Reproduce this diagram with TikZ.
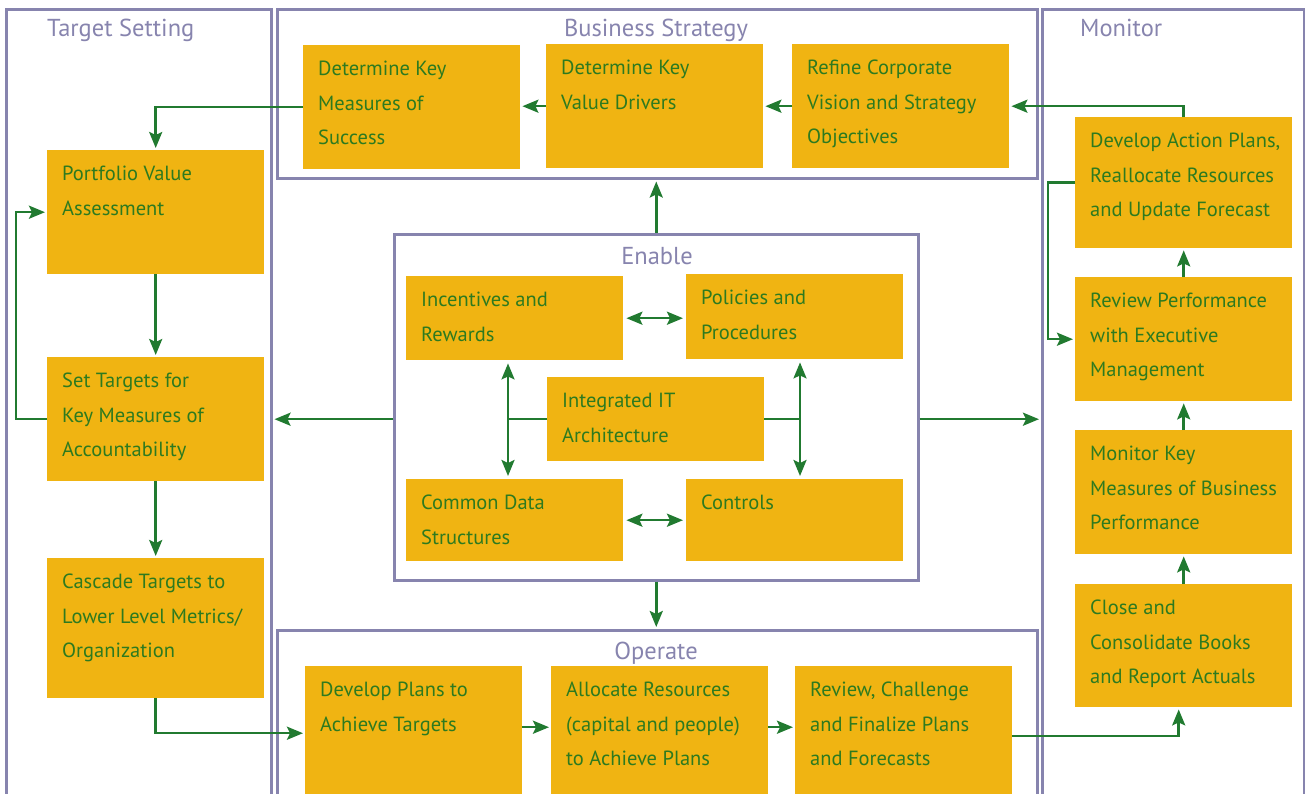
\documentclass[tikz,border=0pt]{standalone}
\usepackage{fontspec}
\setmainfont{PT Sans}
\usepackage{tikz}
\usetikzlibrary{arrows.meta}
\definecolor{gold}{HTML}{F0B412}
\definecolor{leaf}{HTML}{217A30}
\definecolor{ink}{HTML}{2D7A1F}
\definecolor{lav}{HTML}{8784AE}
\newcommand{\cellbox}[2]{\parbox[c][#1][t]{187pt}{\rightskip=-30pt plus 1fil\relax #2}}

\begin{document}
\begin{tikzpicture}[x=1pt, y=-1pt,
  blk/.style={fill=gold, text=ink, anchor=north west, inner xsep=15pt, inner ysep=16pt, font=\fontsize{20.5}{34.5}\selectfont},
  frame/.style={draw=lav, line width=2.5pt, anchor=north west, inner sep=0pt},
  ttl/.style={text=lav, inner sep=0pt, font=\fontsize{24.5}{28}\selectfont},
  wire/.style={draw=leaf, line width=2.5pt},
  arr/.style={wire, shorten >=2pt, -{Stealth[length=16pt,width=13pt,inset=3pt]}},
  dbl/.style={wire, shorten >=3pt, shorten <=3pt, {Stealth[length=16pt,width=13pt,inset=3pt]}-{Stealth[length=16pt,width=13pt,inset=3pt]}}]
\useasboundingbox (0,0) rectangle (1305,793);
\clip (0,0) rectangle (1305,793);
% frames
\node[frame, minimum width=265pt, minimum height=900pt] (ts) at (5,8) {};
\node[frame, minimum width=760pt, minimum height=169pt] (bs) at (276,8) {};
\node[frame, minimum width=262pt, minimum height=900pt] (mon) at (1041,8) {};
\node[frame, minimum width=524pt, minimum height=346pt] (en) at (393,233) {};
\node[frame, minimum width=760pt, minimum height=300pt] (op) at (276,629) {};
\node[ttl, anchor=base west] (tset) at (47,36) {Target Setting};
\node[ttl, anchor=base] (tstrat) at (656,36) {Business Strategy};
\node[ttl, anchor=base west] (tmoni) at (1080,36) {Monitor};
\node[ttl, anchor=base] (tenab) at (657,264) {Enable};
\node[ttl, anchor=base] (toper) at (656,659) {Operate};
% target setting
\node[blk] (pva) at (47,150) {\cellbox{92pt}{Portfolio Value\\ Assessment}};
\node[blk] (st) at (47,357) {\cellbox{92pt}{Set Targets for\\ Key Measures of\\ Accountability}};
\node[blk] (cas) at (47,558) {\cellbox{108pt}{Cascade Targets to\\ Lower Level Metrics/\\ Organization}};
% business strategy
\node[blk] (dkms) at (303,45) {\cellbox{92pt}{Determine Key\\ Measures of\\ Success}};
\node[blk] (dkvd) at (546,44) {\cellbox{92pt}{Determine Key\\ Value Drivers}};
\node[blk] (rcv) at (792,44) {\cellbox{92pt}{Refine Corporate\\ Vision and Strategy\\ Objectives}};
% monitor
\node[blk] (dap) at (1075,117) {\cellbox{99pt}{Develop Action Plans,\\ Reallocate Resources\\ and Update Forecast}};
\node[blk] (rp) at (1075,277) {\cellbox{92pt}{Review Performance\\ with Executive\\ Management}};
\node[blk] (mk) at (1075,430) {\cellbox{92pt}{Monitor Key\\ Measures of Business\\ Performance}};
\node[blk] (cc) at (1075,584) {\cellbox{91pt}{Close and\\ Consolidate Books\\ and Report Actuals}};
% enable
\node[blk] (inc) at (406,276) {\cellbox{52pt}{Incentives and\\ Rewards}};
\node[blk] (pol) at (686,274) {\cellbox{53pt}{Policies and\\ Procedures}};
\node[blk] (it) at (547,377) {\cellbox{52pt}{Integrated IT\\ Architecture}};
\node[blk] (cd) at (406,479) {\cellbox{50pt}{Common Data\\ Structures}};
\node[blk] (ctl) at (686,479) {\cellbox{50pt}{Controls}};
% operate
\node[blk] (dp) at (305,666) {\cellbox{102pt}{Develop Plans to\\ Achieve Targets}};
\node[blk] (al) at (551,666) {\cellbox{102pt}{Allocate Resources\\ (capital and people)\\ to Achieve Plans}};
\node[blk] (rc) at (795,666) {\cellbox{102pt}{Review, Challenge\\ and Finalize Plans\\ and Forecasts}};
% connectors
\draw[arr] (dkms.west) -| (pva.north);
\draw[arr] (dkvd.west) -- (dkvd.west -| dkms.east);
\draw[arr] (rcv.west) -- (rcv.west -| dkvd.east);
\draw[arr] (dap.north) |- (rcv.east);
\draw[arr] (pva.south) -- (st.north);
\draw[arr] (st.south) -- (cas.north);
\draw[arr] (st.west) -- ++(-31,0) |- (pva.west);
\draw[arr] (cas.south) |- (dp.west);
\draw[arr] ([yshift=6pt]dp.east) -- ([yshift=6pt]dp.east -| al.west);
\draw[arr] ([yshift=6pt]al.east) -- ([yshift=6pt]al.east -| rc.west);
\draw[arr] ([yshift=-3pt]rc.east) -| ([xshift=-5pt]cc.south);
\draw[arr] (cc.north) -- (mk.south);
\draw[arr] (mk.north) -- (rp.south);
\draw[arr] (rp.north) -- (dap.south);
\draw[arr] (dap.west) -- ++(-27,0) |- (rp.west);
\draw[arr] (en.north) -- (en.north |- bs.south);
\draw[arr] (en.south) -- (en.south |- op.north);
\draw[arr] (en.west |- it.west) -- (ts.east |- it.west);
\draw[arr] (en.east |- it.east) -- (mon.west |- it.east);
\draw[dbl] (inc.east) -- (inc.east -| pol.west);
\draw[dbl] (cd.east) -- (cd.east -| ctl.west);
\coordinate (lv) at (508,0);
\coordinate (rv) at (800,0);
\draw[dbl] (lv |- inc.south) -- (lv |- cd.north);
\draw[dbl] (rv |- pol.south) -- (rv |- ctl.north);
\draw[wire] (it.west) -- (it.west -| lv);
\draw[wire] (it.east) -- (it.east -| rv);
\end{tikzpicture}
\end{document}
